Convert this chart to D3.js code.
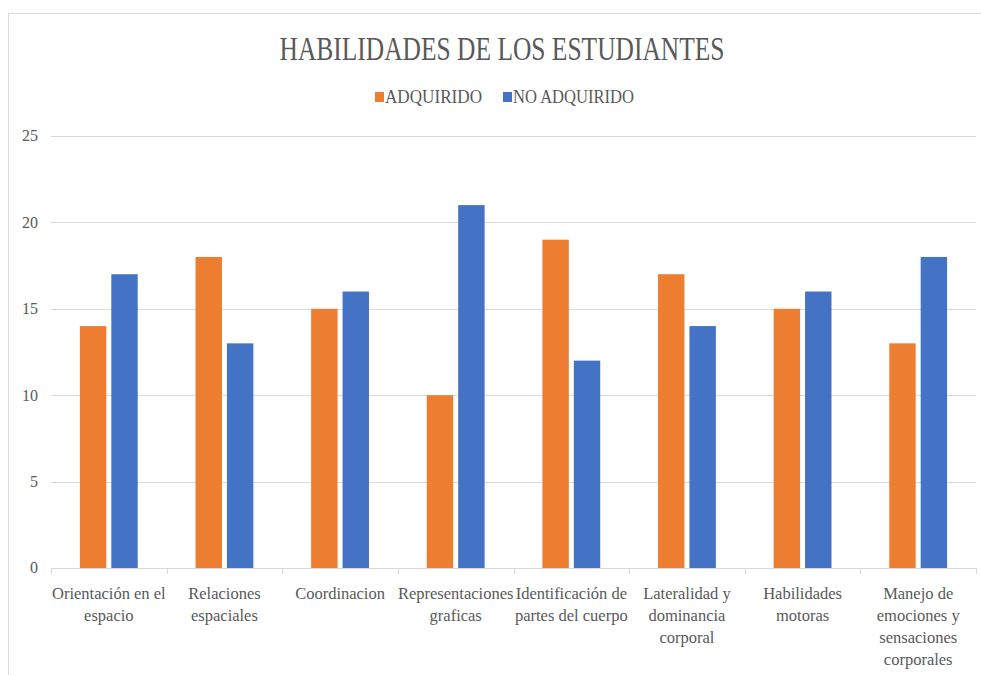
<!DOCTYPE html>
<html><head><meta charset="utf-8">
<script src="https://cdn.jsdelivr.net/npm/d3@7"></script>
</head><body style="margin:0"><svg id="c" width="981" height="675" style="display:block"></svg>
<script>
const title = "HABILIDADES DE LOS ESTUDIANTES";
const categories = ["Orientación en el\nespacio","Relaciones\nespaciales","Coordinacion","Representaciones\ngraficas","Identificación de\npartes del cuerpo","Lateralidad y\ndominancia\ncorporal","Habilidades\nmotoras","Manejo de\nemociones y\nsensaciones\ncorporales"];
const seriesNames = ["ADQUIRIDO","NO ADQUIRIDO"];
const adquirido = [14,18,15,10,19,17,15,13];
const noAdquirido = [17,13,16,21,12,14,16,18];
const yTicks = [0,5,10,15,20,25];
const colors = ["#ED7D31","#4472C4"];
const FONT = "'Liberation Serif'";
const TXT = "#595959";

const svg = d3.select("#c");
svg.append("rect").attr("x",8.5).attr("y",13.5).attr("width",1100).attr("height",800)
  .attr("fill","#fff").attr("stroke","#d9d9d9");

const x = d3.scaleBand().domain(d3.range(categories.length)).range([51,976]).padding(0);
const xs = d3.scaleBand().domain([0,1]).range([0,x.bandwidth()]).paddingInner(0.159).paddingOuter(0.92);
const y = d3.scaleLinear().domain([0,25]).range([568,136]);

svg.append("g").selectAll("line").data(yTicks).join("line")
  .attr("x1",51).attr("x2",976).attr("y1",d=>Math.round(y(d))+0.5).attr("y2",d=>Math.round(y(d))+0.5)
  .attr("stroke","#d9d9d9").attr("stroke-width",1);
svg.append("g").selectAll("text").data(yTicks).join("text")
  .style("font-family",FONT).attr("font-size",16)
  .attr("x",38).attr("y",d=>y(d)).attr("dy","0.34em").attr("text-anchor","end")
  .attr("fill",TXT).text(d=>d);
svg.append("g").selectAll("line").data(d3.range(categories.length+1)).join("line")
  .attr("x1",d=>Math.round(51+d*x.step())+0.5).attr("x2",d=>Math.round(51+d*x.step())+0.5)
  .attr("y1",568).attr("y2",574).attr("stroke","#d9d9d9");

const series = [adquirido,noAdquirido];
series.forEach((vals,si)=>{
  svg.append("g").selectAll("rect").data(vals).join("rect")
    .attr("x",(d,i)=>x(i)+xs(si)).attr("width",xs.bandwidth())
    .attr("y",d=>y(d)).attr("height",d=>y(0)-y(d)).attr("fill",colors[si]);
});

categories.forEach((c,i)=>{
  c.split("\n").forEach((ln,j)=>{
    svg.append("text").style("font-family",FONT).attr("font-size",16.5)
      .attr("text-anchor","middle").attr("fill",TXT)
      .attr("x",x(i)+x.bandwidth()/2).attr("y",599+j*22).text(ln);
  });
});

svg.append("text").style("font-family",FONT).attr("font-size",33)
  .attr("x",502).attr("y",60).attr("text-anchor","middle").attr("fill",TXT)
  .attr("textLength",445).attr("lengthAdjust","spacingAndGlyphs").text(title);

const leg = [{x:375,tx:385,tl:97},{x:503,tx:513,tl:121}];
seriesNames.forEach((n,i)=>{
  svg.append("rect").attr("x",leg[i].x).attr("y",92).attr("width",9).attr("height",10).attr("fill",colors[i]);
  svg.append("text").style("font-family",FONT).attr("font-size",19)
    .attr("x",leg[i].tx).attr("y",103).attr("fill",TXT)
    .attr("textLength",leg[i].tl).attr("lengthAdjust","spacingAndGlyphs").text(n);
});
</script></body></html>
